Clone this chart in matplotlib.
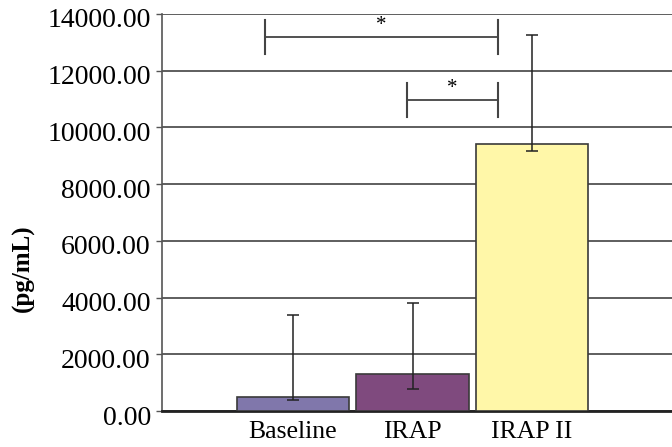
import matplotlib
matplotlib.use("Agg")
import matplotlib.pyplot as plt
import matplotlib.transforms as mtransforms

plt.rcParams['font.family'] = ['Liberation Serif', 'DejaVu Serif']

groups = ['Baseline', 'IRAP', 'IRAP II']
means = [500, 1300, 9420]
err_low = [110, 520, 250]
err_high = [2900, 2510, 3840]
colors = ['#8077AB', '#7F4A7E', '#FFF7A8']
yticks = [0, 2000, 4000, 6000, 8000, 10000, 12000, 14000]

fig = plt.figure(figsize=(6.72, 4.47), dpi=100)
ax = fig.add_axes([0.241, 0.0805, 0.759, 0.8882])

x = list(range(len(groups)))
ax.bar(x, means, width=0.94, color=colors, edgecolor='#3a3a3a', linewidth=1.2, zorder=3)
ax.errorbar(x, means, yerr=[err_low, err_high], fmt='none', ecolor='#222222',
            elinewidth=1.1, capsize=4, capthick=1.1, zorder=4)

ax.set_ylim(0, 14000)
ax.set_xlim(-1.096, 3.17)
ax.set_yticks(yticks)
ax.set_yticklabels(['%.2f' % v for v in yticks], fontsize=20)
ax.set_xticks(x)
ax.set_xticklabels(groups, fontsize=18.5)
ax.tick_params(axis='x', length=0, pad=7)
ax.tick_params(axis='y', length=4, width=1, color='#555555', pad=4)
ax.yaxis.grid(True, color='#333333', linewidth=1.1, zorder=0)
ax.set_axisbelow(True)

# nudge y labels down slightly like the original
off = mtransforms.ScaledTranslation(0, -4 / 100, fig.dpi_scale_trans)
for lab in ax.get_yticklabels():
    lab.set_transform(lab.get_transform() + off)

for s in ['top', 'right']:
    ax.spines[s].set_visible(False)
ax.spines['left'].set_color('#555555')
ax.spines['left'].set_linewidth(1.2)
ax.spines['bottom'].set_color('#222222')
ax.spines['bottom'].set_linewidth(2)

fig.text(0.035, 0.40, '(pg/mL)', rotation=90, fontsize=18, fontweight='bold',
         ha='center', va='center')

# significance brackets
def bracket(x0, x1, y, h):
    ax.plot([x0, x1], [y, y], color='#222222', lw=1.1, zorder=5)
    ax.plot([x0, x0], [y - h, y + h], color='#444444', lw=1.5, zorder=5)
    ax.plot([x1, x1], [y - h, y + h], color='#444444', lw=1.5, zorder=5)
    ax.text((x0 + x1) / 2, y + 60, '*', ha='center', va='bottom', fontsize=15)

bracket(-0.234, 1.715, 13190, 590)
bracket(0.954, 1.715, 10970, 590)

fig.savefig('out.png', dpi=100)
